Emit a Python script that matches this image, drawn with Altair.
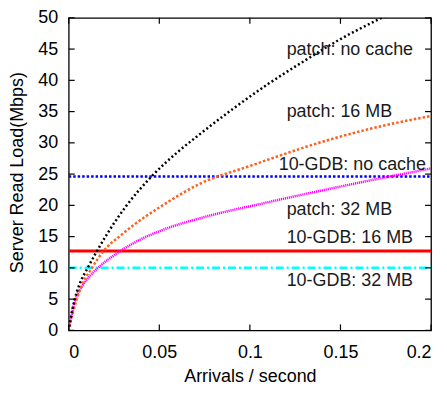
import altair as alt
import pandas as pd

# ---- data ----
noc_x = [0.0003, 0.002, 0.0033, 0.006, 0.0105, 0.0154, 0.022, 0.032, 0.046, 0.06, 0.072,
         0.09, 0.11, 0.13, 0.15, 0.1727, 0.19]
noc_y = [0.6, 3.3, 4.95, 7.4, 10.0, 12.6, 15.8, 20.0, 24.7, 28.5, 31.3,
         35.3, 39.4, 43.1, 46.6, 50.0, 52.5]

p16_x = [0.0003, 0.0044, 0.0077, 0.0126, 0.0187, 0.03, 0.054, 0.072, 0.1, 0.145, 0.17, 0.2]
p16_y = [0.6, 4.95, 7.5, 9.9, 12.5, 15.5, 20.4, 23.4, 26.3, 30.6, 32.5, 34.3]

p32_x = [0.0003, 0.0033, 0.0077, 0.012, 0.017, 0.028, 0.04, 0.054, 0.072, 0.11, 0.14, 0.17, 0.2]
p32_y = [0.6, 4.6, 7.2, 8.8, 10.2, 12.6, 14.6, 16.3, 17.9, 20.5, 22.4, 24.2, 25.9]

gdb_x = [0.0, 0.2]
gdb_nocache = 24.6
gdb_16 = 12.7
gdb_32 = 10.0

label_texts = ["patch: no cache", "patch: 16 MB", "10-GDB: no cache",
               "patch: 32 MB", "10-GDB: 16 MB", "10-GDB: 32 MB"]
label_x = [0.1203, 0.1203, 0.1159, 0.1203, 0.1203, 0.1203]
label_y = [44.1, 34.1, 25.6, 18.5, 14.0, 7.1]

x_ticks = [0, 0.05, 0.1, 0.15, 0.2]
y_ticks = [0, 5, 10, 15, 20, 25, 30, 35, 40, 45, 50]

FONT = "Liberation Sans"
W, H = 364, 314

xs = alt.Scale(domain=[0, 0.2], nice=False, zero=False)
ys = alt.Scale(domain=[0, 50], nice=False)

x_axis = alt.Axis(values=x_ticks, format="~g", ticks=False, domain=False, grid=False,
                  labelPadding=13, labelFontSize=18, labelFont=FONT, labelColor="black",
                  title="Arrivals / second", titleFontSize=18, titleFont=FONT,
                  titleFontWeight="normal", titleColor="black",
                  titleBaseline="alphabetic", titleY=51)
y_axis = alt.Axis(values=y_ticks, ticks=False, domain=False, grid=False,
                  labelPadding=11, labelFontSize=18, labelFont=FONT, labelColor="black",
                  title="Server Read Load(Mbps)", titleFontSize=18, titleFont=FONT,
                  titleFontWeight="normal", titleColor="black",
                  titleBaseline="alphabetic", titleAngle=270, titleAlign="center",
                  titleX=-46, titleY=H / 2 - 2)


def X():
    return alt.X("x:Q", scale=xs, axis=x_axis)


def Y():
    return alt.Y("y:Q", scale=ys, axis=y_axis)


def line(xv, yv, color, dash, width):
    df = pd.DataFrame({"x": xv, "y": yv})
    kw = dict(color=color, strokeWidth=width, clip=True, interpolate="monotone")
    if dash:
        kw["strokeDash"] = dash
    return alt.Chart(df).mark_line(**kw).encode(x=X(), y=Y())


layers = [
    line(gdb_x, [gdb_32, gdb_32], "#00ffff", [8, 3, 2, 3], 2.5),
    line(gdb_x, [gdb_16, gdb_16], "#ff0000", None, 3),
    line(gdb_x, [gdb_nocache, gdb_nocache], "#0000ff", [2.5, 2], 2.5),
    line(p32_x, p32_y, "#ff00ff", [1.2, 0.8], 2.5),
    line(p16_x, p16_y, "#ff5f1f", [2.5, 2], 2.5),
    line(noc_x, noc_y, "#000000", [2, 2.5], 2.5),
]

# inward ticks on all four sides
xt = pd.DataFrame({"x": x_ticks})
yt = pd.DataFrame({"y": y_ticks})
layers += [
    alt.Chart(xt).mark_rule(color="black", strokeWidth=1.2).encode(
        x=X(), y=alt.value(H), y2=alt.value(H - 6)),
    alt.Chart(xt).mark_rule(color="black", strokeWidth=1.2).encode(
        x=X(), y=alt.value(0), y2=alt.value(6)),
    alt.Chart(yt).mark_rule(color="black", strokeWidth=1.2).encode(
        y=Y(), x=alt.value(0), x2=alt.value(6)),
    alt.Chart(yt).mark_rule(color="black", strokeWidth=1.2).encode(
        y=Y(), x=alt.value(W), x2=alt.value(W - 6)),
]

lab = pd.DataFrame({"x": label_x, "y": label_y, "label": label_texts})
layers.append(
    alt.Chart(lab).mark_text(align="left", baseline="alphabetic", fontSize=18,
                             font=FONT, color="#1a1a1a").encode(
        x=X(), y=Y(), text="label:N")
)

chart = alt.layer(*layers).properties(
    width=W, height=H,
    autosize=alt.AutoSizeParams(type="none"),
    padding={"left": 61, "top": 9, "right": 8, "bottom": 54},
).configure_view(stroke="black", strokeWidth=1.3)

chart.save("out.html", embed_options={"renderer": "svg", "actions": False})
